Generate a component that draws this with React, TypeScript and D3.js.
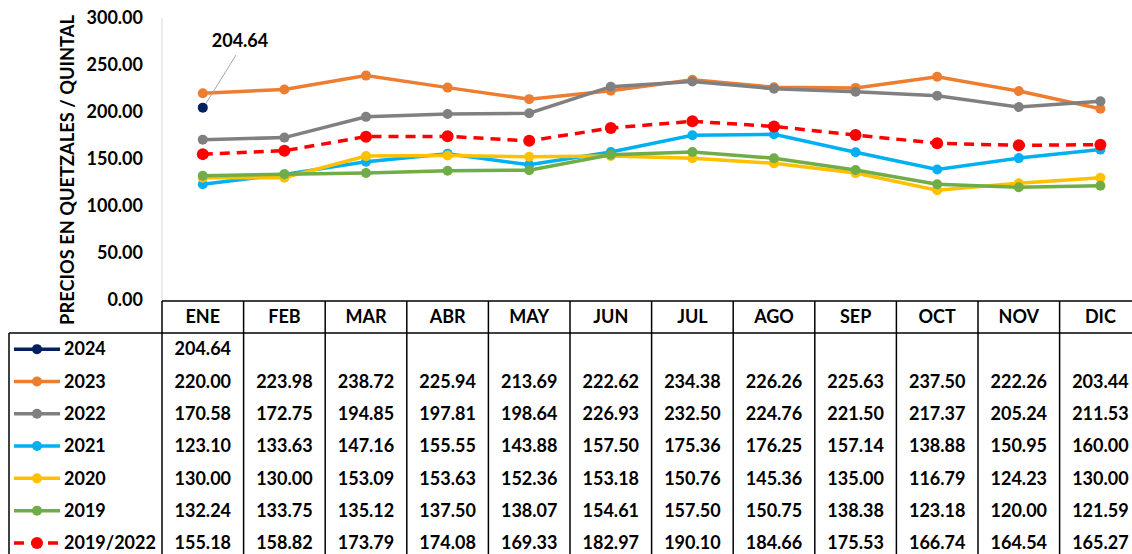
import React from 'react';
import * as d3 from 'd3';

const months = ['ENE', 'FEB', 'MAR', 'ABR', 'MAY', 'JUN', 'JUL', 'AGO', 'SEP', 'OCT', 'NOV', 'DIC'];
const yTicks = [0, 50, 100, 150, 200, 250, 300];

const s2024 = [204.64];
const s2023 = [220.0, 223.98, 238.72, 225.94, 213.69, 222.62, 234.38, 226.26, 225.63, 237.5, 222.26, 203.44];
const s2022 = [170.58, 172.75, 194.85, 197.81, 198.64, 226.93, 232.5, 224.76, 221.5, 217.37, 205.24, 211.53];
const s2021 = [123.1, 133.63, 147.16, 155.55, 143.88, 157.5, 175.36, 176.25, 157.14, 138.88, 150.95, 160.0];
const s2020 = [130.0, 130.0, 153.09, 153.63, 152.36, 153.18, 150.76, 145.36, 135.0, 116.79, 124.23, 130.0];
const s2019 = [132.24, 133.75, 135.12, 137.5, 138.07, 154.61, 157.5, 150.75, 138.38, 123.18, 120.0, 121.59];
const sAvg = [155.18, 158.82, 173.79, 174.08, 169.33, 182.97, 190.1, 184.66, 175.53, 166.74, 164.54, 165.27];

const series = [
  { name: '2024', values: s2024, color: '#002060', dashed: false },
  { name: '2023', values: s2023, color: '#ED7D31', dashed: false },
  { name: '2022', values: s2022, color: '#808080', dashed: false },
  { name: '2021', values: s2021, color: '#00B0F0', dashed: false },
  { name: '2020', values: s2020, color: '#FFC000', dashed: false },
  { name: '2019', values: s2019, color: '#70AD47', dashed: false },
  { name: '2019/2022', values: sAvg, color: '#FF0000', dashed: true },
];

const W = 1132;
const H = 554;
const FONT = 'Lato, "Open Sans", sans-serif';

export default function App() {
  const left = 162;
  const colW = 81.6;
  const x = d3.scaleBand<string>().domain(months).range([left, left + colW * 12]);
  const y = d3.scaleLinear().domain([0, 300]).range([300, 18]);
  const cx = (i: number) => (x(months[i]) as number) + colW / 2;

  const headTop = 301;
  const headBot = 333;
  const rowH = 32.3;
  const rowY = (r: number) => headBot + rowH * r + rowH / 2;
  const right = left + colW * 12;

  const line = d3.line<number>().x((_, i) => cx(i)).y(d => y(d));

  return (
    <svg width={W} height={H} style={{ position: 'absolute', left: 0, top: 0, background: '#fff' }} fontFamily={FONT}>
      {/* y axis */}
      <line x1={left} x2={left} y1={18} y2={headTop} stroke="#d9d9d9" strokeWidth={1} />
      {yTicks.map(t => (
        <text key={t} x={143} y={y(t)} dy="0.35em" textAnchor="end" fontSize={18} fontWeight="bold">
          {t.toFixed(2)}
        </text>
      ))}
      <text
        transform={`translate(68,${170}) rotate(-90)`}
        textAnchor="middle"
        dy="0.35em"
        fontSize={18.3}
        fontWeight="bold"
      >
        PRECIOS EN QUETZALES / QUINTAL
      </text>

      {/* lines */}
      {series.map(s => (
        <g key={s.name}>
          <path
            d={line(s.values) || ''}
            fill="none"
            stroke={s.color}
            strokeWidth={3.5}
            strokeDasharray={s.dashed ? '10,7' : undefined}
          />
          {s.values.map((v, i) => (
            <circle key={i} cx={cx(i)} cy={y(v)} r={s.dashed ? 6 : 5} fill={s.color} />
          ))}
        </g>
      ))}

      {/* annotation */}
      <line x1={236} y1={55} x2={cx(0) + 3} y2={y(s2024[0]) - 4} stroke="#a6a6a6" strokeWidth={1} />
      <text x={240} y={41} dy="0.35em" textAnchor="middle" fontSize={18} fontWeight="bold">
        {s2024[0].toFixed(2)}
      </text>

      {/* data table */}
      <g stroke="#000" strokeWidth={1.5}>
        <line x1={left} x2={right} y1={headTop} y2={headTop} />
        <line x1={9} x2={right} y1={headBot} y2={headBot} />
        <line x1={9} x2={9} y1={headBot} y2={H} />
        {d3.range(13).map(i => (
          <line key={i} x1={left + colW * i} x2={left + colW * i} y1={headTop} y2={H} />
        ))}
      </g>
      {months.map((m, i) => (
        <text key={m} x={cx(i)} y={(headTop + headBot) / 2} dy="0.35em" textAnchor="middle" fontSize={18} fontWeight="bold">
          {m}
        </text>
      ))}
      {series.map((s, r) => (
        <g key={s.name}>
          <line
            x1={14}
            x2={60}
            y1={rowY(r)}
            y2={rowY(r)}
            stroke={s.color}
            strokeWidth={3.5}
            strokeDasharray={s.dashed ? '10,7' : undefined}
          />
          <circle cx={37} cy={rowY(r)} r={s.dashed ? 6 : 5} fill={s.color} />
          <text x={64} y={rowY(r)} dy="0.35em" fontSize={18} fontWeight="bold">
            {s.name}
          </text>
          {s.values.map((v, i) => (
            <text key={i} x={cx(i)} y={rowY(r)} dy="0.35em" textAnchor="middle" fontSize={18} fontWeight="bold">
              {v.toFixed(2)}
            </text>
          ))}
        </g>
      ))}
    </svg>
  );
}
